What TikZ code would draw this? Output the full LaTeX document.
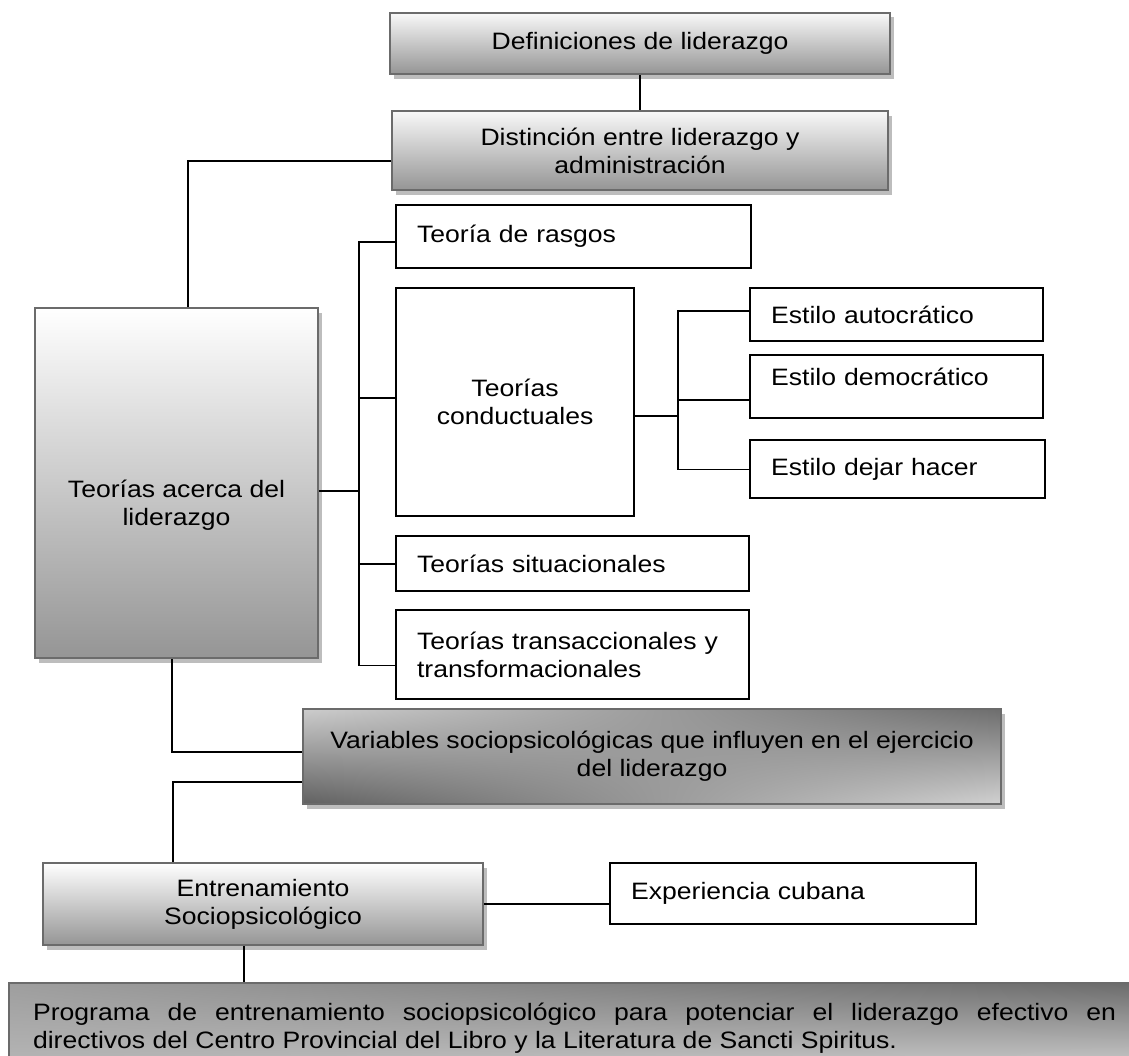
\documentclass[tikz,border=0pt]{standalone}
\usepackage{fontspec}
\setmainfont{Liberation Sans}[FakeStretch=1.12]
\usetikzlibrary{positioning,shadows,shadings}
\definecolor{boxline}{HTML}{6B6B6B}
\definecolor{shadetop}{HTML}{F8F8F8}
\definecolor{shadebot}{HTML}{959595}
\definecolor{shadowgray}{HTML}{BDBDBD}

\begin{document}
\begin{tikzpicture}[
    font=\fontsize{13.5}{15.9}\selectfont,
    greybox/.style={draw=boxline, line width=1.2pt, top color=shadetop, bottom color=shadebot, align=center, inner sep=2pt, drop shadow={shadow xshift=0.07cm, shadow yshift=-0.09cm, fill=shadowgray, opacity=1}},
    darkbox/.style={draw=boxline, line width=1.2pt, upper left=black!20, upper right=black!57, lower left=black!62, lower right=black!18, align=center, inner sep=2pt, drop shadow={shadow xshift=0.07cm, shadow yshift=-0.09cm, fill=shadowgray, opacity=1}},
    leaf/.style={draw=black, line width=1.2pt, fill=white, align=left, inner xsep=0.42cm, inner ysep=0pt},
    link/.style={draw=black, line width=1pt}
  ]
    \useasboundingbox (0,0) rectangle (22.58,-21.1);
    \fill[white] (0,0) rectangle (22.58,-21.1);

    \node[greybox, minimum width=10cm, minimum height=1.22cm] (def) at (12.8,-0.87) {Definiciones de liderazgo};
    \node[greybox, minimum width=9.92cm, minimum height=1.58cm, below=0.7cm of def] (dist) {Distinción entre liderazgo y\\administración};
    \node[greybox, top color=white, minimum width=5.66cm, minimum height=7cm] (teorias) at (3.53,-9.66) {\rule{0pt}{1.22cm}Teorías acerca del\\liderazgo};

    \node[leaf, text width=6.26cm, minimum height=1.26cm, anchor=north west] (rasgos) at (7.9,-4.08) {Teoría de rasgos};
    \node[leaf, align=center, text width=3.92cm, minimum height=4.56cm, below=0.36cm of rasgos.south west, anchor=north west] (conduct) {Teorías\\conductuales};
    \node[leaf, text width=6.22cm, minimum height=1.1cm, below=0.36cm of conduct.south west, anchor=north west] (situ) {Teorías situacionales};
    \node[leaf, text width=6.22cm, minimum height=1.78cm, below=0.34cm of situ.south west, anchor=north west] (trans) {Teorías transaccionales y\\transformacionales};

    \node[leaf, text width=5.02cm, minimum height=1.06cm, right=2.28cm of conduct.north east, anchor=north west] (autoc) {Estilo autocrático};
    \node[leaf, text width=5.02cm, minimum height=1.26cm, text depth=0.4cm, below=0.24cm of autoc.south west, anchor=north west] (democ) {Estilo democrático};
    \node[leaf, text width=5.06cm, minimum height=1.16cm, below=0.4cm of democ.south west, anchor=north west] (dejar) {Estilo dejar hacer};

    \node[darkbox, minimum width=13.96cm, minimum height=1.9cm, anchor=north west] (vars) at (6.04,-14.16) {Variables sociopsicológicas que influyen en el ejercicio\\del liderazgo};
    \node[greybox, top color=white, minimum width=8.8cm, minimum height=1.64cm, anchor=north west] (entr) at (0.84,-17.24) {Entrenamiento\\Sociopsicológico};
    \node[leaf, text width=6.48cm, minimum height=1.22cm, right=2.5cm of entr.north east, anchor=north west] (exp) {Experiencia cubana};
    \node[darkbox, upper left=black!38, upper right=black!58, lower left=black!28, lower right=black!18, align=justify, text width=21.66cm, inner xsep=0.48cm, minimum height=1.8cm, anchor=north west] (prog) at (0.16,-19.64) {Programa de entrenamiento sociopsicológico para potenciar el liderazgo efectivo en\linebreak directivos del Centro Provincial del Libro y la Literatura de Sancti Spiritus.};

    \draw[link] (def) -- (dist);
    \draw[link] ([yshift=-0.21cm]dist.west) -| ([xshift=0.23cm]teorias.north);
    \draw[link] ([yshift=-0.16cm]teorias.east) -- ++(0.8,0) |- ([yshift=-0.11cm]rasgos.west);
    \draw[link] ([yshift=-0.16cm]teorias.east) -- ++(0.8,0) |- ([yshift=0.08cm]conduct.west);
    \draw[link] ([yshift=-0.16cm]teorias.east) -- ++(0.8,0) |- (situ.west);
    \draw[link] ([yshift=-0.16cm]teorias.east) -- ++(0.8,0) |- ([yshift=-0.21cm]trans.west);
    \draw[link] ([yshift=-0.28cm]conduct.east) -- ++(0.86,0) |- ([yshift=0.07cm]autoc.west);
    \draw[link] ([yshift=-0.28cm]conduct.east) -- ++(0.86,0) |- ([yshift=-0.27cm]democ.west);
    \draw[link] ([yshift=-0.28cm]conduct.east) -- ++(0.86,0) |- (dejar.west);
    \draw[link] ([xshift=-0.09cm]teorias.south) |- ([yshift=0.09cm]vars.west);
    \draw[link] ([yshift=-0.51cm]vars.west) -| ([xshift=-1.8cm]entr.north);
    \draw[link] (entr.east) -- (entr.east -| exp.west);
    \coordinate[xshift=-0.38cm] (entrfoot) at (entr.south);
    \draw[link] (entrfoot) -- (entrfoot |- prog.north);
  \end{tikzpicture}
\end{document}
